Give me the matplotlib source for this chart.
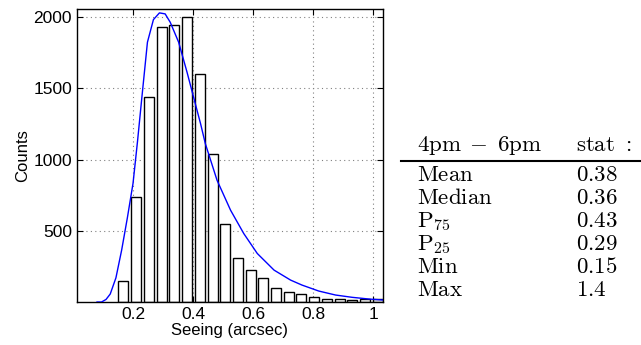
import numpy as np
import matplotlib.pyplot as plt

plt.rcParams['font.family'] = ['Liberation Sans', 'DejaVu Sans']
plt.rcParams['mathtext.fontset'] = 'cm'

# histogram of seeing values (bin centres in arcsec, counts)
bin_centers = [0.168, 0.210, 0.253, 0.295, 0.338, 0.380, 0.422, 0.465, 0.507,
               0.549, 0.592, 0.634, 0.677, 0.719, 0.761, 0.804, 0.846, 0.889,
               0.931, 0.973, 1.016]
counts = [150, 740, 1440, 1930, 1945, 2000, 1600, 1040, 550,
          310, 222, 166, 96, 73, 54, 36, 19, 19,
          14, 21, 19]
bar_width = 0.0334

# fitted distribution
fit_x = [0.080, 0.095, 0.110, 0.124, 0.143, 0.162, 0.181, 0.200, 0.215, 0.229,
         0.248, 0.268, 0.288, 0.307, 0.324, 0.352, 0.380, 0.402, 0.425, 0.441,
         0.480, 0.525, 0.569, 0.614, 0.670, 0.725, 0.763, 0.819, 0.875, 0.930,
         0.986, 1.040]
fit_y = [0, 0, 18, 56, 170, 364, 590, 834, 1130, 1428,
         1825, 1984, 2031, 2024, 1965, 1825, 1614, 1437, 1253, 1112,
         855, 645, 481, 341, 224, 154, 119, 77, 49, 33,
         21, 13]

# statistics table
period = r'$\mathrm{4pm}\;-\;\mathrm{6pm}$'
stat_names = [r'$\mathrm{Mean}$', r'$\mathrm{Median}$', r'$\mathrm{P}_{75}$',
              r'$\mathrm{P}_{25}$', r'$\mathrm{Min}$', r'$\mathrm{Max}$']
stat_values = ['0.38', '0.36', '0.43', '0.29', '0.15', '1.4']

fig = plt.figure(figsize=(6.41, 3.45), dpi=100)
ax = fig.add_axes([0.120, 0.1246, 0.4775, 0.8500])

ax.bar(bin_centers, counts, width=bar_width, color='white',
       edgecolor='black', linewidth=1.0, zorder=2)
ax.plot(fit_x, fit_y, color='blue', linewidth=1.0, zorder=3)

ax.set_xlim(0.013, 1.033)
ax.set_ylim(0, 2060)
ax.set_xticks([0.2, 0.4, 0.6, 0.8, 1.0])
ax.set_xticklabels(['0.2', '0.4', '0.6', '0.8', '1'])
ax.set_yticks([500, 1000, 1500, 2000])
ax.tick_params(direction='in', top=True, right=True, labelsize=12.5,
               length=4, width=0.8)
ax.grid(True, linestyle=(0, (1, 3)), color='gray', linewidth=0.8, zorder=0)
ax.set_axisbelow(True)
for s in ax.spines.values():
    s.set_linewidth(1.0)
ax.set_xlabel('Seeing (arcsec)', fontsize=12, labelpad=1)
ax.set_ylabel('Counts', fontsize=12, labelpad=2)

# table on the right
W, H = 641.0, 345.0
fs = 16.5
x1, x2 = 417.0 / W, 576.0 / W
fig.text(x1, 1 - 150.7 / H, period, fontsize=fs, va='baseline')
fig.text(x2, 1 - 150.7 / H, r'$\mathrm{stat}\ :$', fontsize=fs, va='baseline')
fig.add_artist(plt.Line2D([401 / W, 1.0], [1 - 160.5 / H, 1 - 160.5 / H],
                          color='black', linewidth=1.5))
base = [181.0, 204.0, 227.3, 250.0, 272.7, 295.5]
for name, val, b in zip(stat_names, stat_values, base):
    fig.text(x1, 1 - b / H, name, fontsize=fs, va='baseline')
    fig.text(x2, 1 - b / H, '$' + val + '$', fontsize=fs, va='baseline')

fig.savefig('out.png', dpi=100)
